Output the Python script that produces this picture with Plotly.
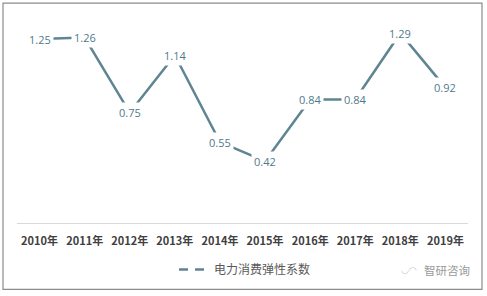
import plotly.graph_objects as go

years = ["2010年", "2011年", "2012年", "2013年", "2014年", "2015年", "2016年", "2017年", "2018年", "2019年"]
values = [1.25, 1.26, 0.75, 1.14, 0.55, 0.42, 0.84, 0.84, 1.29, 0.92]
series_name = "电力消费弹性系数"
watermark = "智研咨询"

line_color = "#5f8593"
label_color = "#4f7a8c"

fig = go.Figure()
fig.add_trace(go.Scatter(
    x=years, y=values, mode="lines",
    line=dict(color=line_color, width=2.5),
    showlegend=False, hoverinfo="skip",
))
fig.add_trace(go.Scatter(
    x=[None], y=[None], mode="lines", name=series_name,
    line=dict(color=line_color, width=2.5, dash="9px,7px"),
))

for yr, v in zip(years, values):
    fig.add_annotation(
        x=yr, y=v, text=f"{v:.2f}", showarrow=False,
        font=dict(family="Open Sans, Noto Sans", size=11, color=label_color),
        bgcolor="white", borderpad=2,
    )

fig.add_annotation(
    xref="paper", yref="paper", x=(447 - 17) / 451, y=(225 - 272) / 208,
    xanchor="center", yanchor="middle",
    text=watermark, showarrow=False,
    font=dict(family="Noto Sans CJK SC", size=11.5, color="#9a9a9a"),
)
fig.add_annotation(
    xref="paper", yref="paper", x=(409 - 17) / 451, y=(225 - 272) / 208,
    xanchor="center", yanchor="middle",
    text="◡◠", showarrow=False,
    font=dict(family="DejaVu Sans", size=9, color="#c8c8c8"),
)

fig.add_shape(
    type="rect", xref="paper", yref="paper",
    x0=(3 - 17) / 451, x1=(482 - 17) / 451,
    y0=(225 - 292) / 208, y1=(225 - 3) / 208,
    line=dict(color="#8c8c8c", width=1.2), fillcolor="rgba(0,0,0,0)",
)

fig.update_layout(
    width=487, height=296,
    margin=dict(l=17, r=19, t=17, b=71),
    paper_bgcolor="white", plot_bgcolor="white",
    showlegend=True,
    legend=dict(
        orientation="h", xanchor="center", x=(245 - 17) / 451,
        yanchor="middle", y=(225 - 272) / 208,
        font=dict(family="Noto Sans CJK SC", size=12, color="#595959"),
        bgcolor="rgba(0,0,0,0)",
    ),
    xaxis=dict(
        type="category", range=[-0.5, 9.5],
        showgrid=False, showline=True, linecolor="#d9d9d9", linewidth=1,
        ticks="", ticklabelstandoff=8,
        tickfont=dict(family="Noto Sans CJK SC", size=11, color="#404040", weight="bold"),
        fixedrange=True,
    ),
    yaxis=dict(
        range=[0, 1.4], visible=False, showgrid=False, zeroline=False,
        fixedrange=True,
    ),
)

fig.write_html("out.html")
